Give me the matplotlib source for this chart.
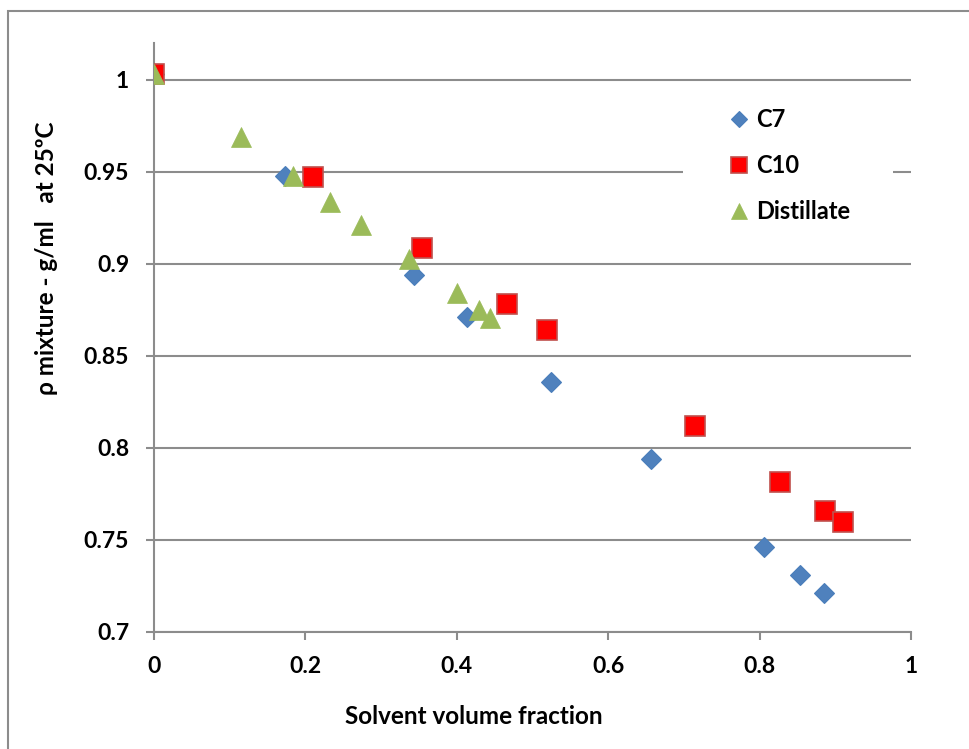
import matplotlib
matplotlib.use('Agg')
import matplotlib.pyplot as plt
from matplotlib.patches import Rectangle
from matplotlib.ticker import FuncFormatter, MultipleLocator

# mixture density vs. solvent volume fraction, 25 C
c7_frac = [0.0, 0.173, 0.343, 0.4135, 0.5245, 0.6565, 0.806, 0.853, 0.885]
c7_rho = [1.003, 0.948, 0.894, 0.871, 0.836, 0.794, 0.746, 0.731, 0.721]

c10_frac = [0.0, 0.210, 0.3545, 0.4667, 0.5196, 0.715, 0.8274, 0.887, 0.9102]
c10_rho = [1.003, 0.947, 0.9085, 0.8783, 0.8641, 0.812, 0.7817, 0.7658, 0.7596]

dist_frac = [0.0, 0.1149, 0.184, 0.233, 0.274, 0.337, 0.3998, 0.4293, 0.4439]
dist_rho = [1.003, 0.9689, 0.948, 0.9335, 0.9212, 0.9025, 0.884, 0.875, 0.8705]

series_names = ['C7', 'C10', 'Distillate']

plt.rcParams['font.family'] = ['Lato', 'DejaVu Sans']
plt.rcParams['font.weight'] = 'bold'

W, H = 969, 749
fig = plt.figure(figsize=(W / 100, H / 100), dpi=100)
ax = fig.add_axes([154 / W, 1 - 632 / H, (911 - 154) / W, (632 - 43) / H])

gray = '#8c8c8c'

# outer chart border (left and top edges only are in view)
fig.patches.append(Rectangle((7.5 / W, -0.2), 1.5, 1.2 - 10.5 / H,
                             transform=fig.transFigure, fill=False,
                             edgecolor=gray, lw=1.5))

ax.plot(c7_frac, c7_rho, 'D', ms=10.5, color='#4f81bd', mec='#4a7ebb',
        mew=0.8, label=series_names[0], zorder=3)
ax.plot(c10_frac, c10_rho, 's', ms=14, color='#ff0000', mec='#c0504d',
        mew=1.2, label=series_names[1], zorder=3)
ax.plot(dist_frac, dist_rho, '^', ms=14.5, color='#9bbb59', mec='#9bbb59',
        mew=0.5, label=series_names[2], zorder=3)

ax.set_xlim(0, 1)
ax.set_ylim(0.7, 1.02)
ax.xaxis.set_major_locator(MultipleLocator(0.2))
ax.yaxis.set_major_locator(MultipleLocator(0.05))
fmt = FuncFormatter(lambda v, p: '%g' % round(v, 3))
ax.xaxis.set_major_formatter(fmt)
ax.yaxis.set_major_formatter(fmt)

ax.yaxis.grid(True, color=gray, lw=1.5)
ax.set_axisbelow(True)
for side in ['top', 'right']:
    ax.spines[side].set_visible(False)
for side in ['left', 'bottom']:
    ax.spines[side].set_color(gray)
    ax.spines[side].set_linewidth(1.5)
ax.tick_params(axis='both', direction='out', length=6, width=1.5,
               color=gray, labelsize=16.5, labelcolor='black')
ax.tick_params(axis='x', pad=11)
ax.tick_params(axis='y', pad=12)

# white block behind the legend hides the gridline there
ax.add_patch(Rectangle((683 / W, 1 - 235 / H), 210 / W, 140 / H,
                       transform=fig.transFigure, facecolor='white',
                       edgecolor='none', zorder=2))
leg = ax.legend(loc='upper left', bbox_to_anchor=(727 / W, 1 - 108 / H),
                bbox_transform=fig.transFigure, frameon=False,
                fontsize=17, handlelength=1.0, handletextpad=0.25,
                labelspacing=0.98, borderpad=0, borderaxespad=0,
                markerscale=0.8)
leg.set_zorder(4)

fig.text(474 / W, 1 - 716 / H, 'Solvent volume fraction', ha='center',
         va='center', fontsize=17.5, fontweight='bold')
fig.text(47 / W, 1 - 258 / H, 'ρ mixture - g/ml   at 25ºC', ha='center',
         va='center', rotation=90, fontsize=17.5, fontweight='bold')

fig.savefig('out.png', dpi=100)
